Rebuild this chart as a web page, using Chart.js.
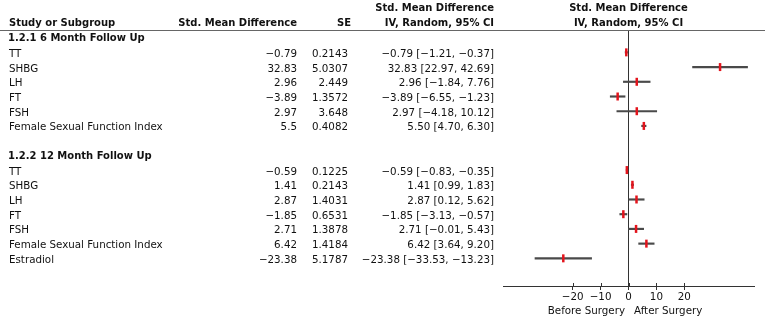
<!DOCTYPE html>
<html>
<head>
<meta charset="utf-8">
<script src="https://cdn.jsdelivr.net/npm/chart.js@4.4.1/dist/chart.umd.min.js"></script>
<style>
  html, body { margin: 0; padding: 0; background: #fff; }
  body { width: 765px; height: 321px; overflow: hidden; position: relative;
         font-family: "DejaVu Sans", sans-serif; font-size: 10.3px; color: #111; }
  #wrap { position: absolute; left: 0; top: 0; width: 765px; height: 321px; }
  .t { position: absolute; white-space: nowrap; line-height: 14px; height: 14px; }
  .b { font-weight: bold; font-size: 10px; }
  #rule { position: absolute; left: 0; top: 29.5px; width: 765px; height: 0; border-top: 1.5px solid #666; }
</style>
</head>
<body>
<div id="wrap"><canvas id="c" width="765" height="321"></canvas></div>
<div id="rule"></div>
<div id="texts"></div>
<script>
// ---- data ----
const groupTitles = ['1.2.1 6 Month Follow Up', '1.2.2 12 Month Follow Up'];

const names6  = ['TT', 'SHBG', 'LH', 'FT', 'FSH', 'Female Sexual Function Index'];
const smd6    = [-0.79, 32.83, 2.96, -3.89, 2.97, 5.5];
const se6     = ['0.2143', '5.0307', '2.449', '1.3572', '3.648', '0.4082'];
const ciLow6  = [-1.21, 22.97, -1.84, -6.55, -4.18, 4.70];
const ciHigh6 = [-0.37, 42.69, 7.76, -1.23, 10.12, 6.30];

const names12  = ['TT', 'SHBG', 'LH', 'FT', 'FSH', 'Female Sexual Function Index', 'Estradiol'];
const smd12    = [-0.59, 1.41, 2.87, -1.85, 2.71, 6.42, -23.38];
const se12     = ['0.1225', '0.2143', '1.4031', '0.6531', '1.3878', '1.4184', '5.1787'];
const ciLow12  = [-0.83, 0.99, 0.12, -3.13, -0.01, 3.64, -33.53];
const ciHigh12 = [-0.35, 1.83, 5.62, -0.57, 5.43, 9.20, -13.23];

const xTickValues = [-20, -10, 0, 10, 20];
const sideLabels = ['Before Surgery', 'After Surgery'];
const colHeaders = ['Study or Subgroup', 'Std. Mean Difference', 'SE', 'Std. Mean Difference', 'IV, Random, 95% CI'];

// ---- build rows (row index k: group header, studies, blank, ...) ----
const rows = [];
const headers = [];
let k = 0;
[[names6, smd6, se6, ciLow6, ciHigh6], [names12, smd12, se12, ciLow12, ciHigh12]].forEach((g, gi) => {
  headers.push({ k: k, title: groupTitles[gi] });
  k++;
  g[0].forEach((n, i) => {
    rows.push({ k: k, name: n, smd: g[1][i], se: g[2][i], lo: g[3][i], hi: g[4][i] });
    k++;
  });
  k++; // blank row
});

const minus = s => String(s).replace(/-/g, '\u2212');
const f2 = v => minus(v.toFixed(2));

const upTicks = {
  id: 'upTicks',
  afterDraw(chart) {
    const xs = chart.scales.x, ctx = chart.ctx;
    ctx.save();
    ctx.strokeStyle = '#333';
    ctx.lineWidth = 1;
    xs.ticks.forEach(t => {
      const px = Math.round(xs.getPixelForValue(t.value)) + 0.5;
      ctx.beginPath();
      ctx.moveTo(px, xs.top - 3);
      ctx.lineTo(px, xs.top);
      ctx.stroke();
    });
    ctx.restore();
  }
};

const chart = new Chart(document.getElementById('c'), {
  type: 'bar',
  data: {
    datasets: [
      {
        type: 'scatter',
        order: 0,
        data: rows.map(r => ({ x: r.smd, y: r.k })),
        pointStyle: 'line',
        rotation: 90,
        radius: 4,
        borderWidth: 2.5,
        borderColor: '#e3141c',
        backgroundColor: '#e3141c',
        showLine: false
      },
      {
        type: 'bar',
        order: 1,
        data: rows.map(r => ({ x: [r.lo, r.hi], y: r.k })),
        backgroundColor: '#4a4a4a',
        barThickness: 1.5,
        borderWidth: 0
      }
    ]
  },
  options: {
    indexAxis: 'y',
    responsive: false,
    devicePixelRatio: 1,
    animation: false,
    layout: { padding: { left: 503, right: 11, top: 30, bottom: 0 } },
    plugins: { legend: { display: false }, tooltip: { enabled: false } },
    scales: {
      x: {
        type: 'linear',
        min: -45, max: 45,
        offset: false,
        afterBuildTicks: s => { s.ticks = xTickValues.map(v => ({ value: v })); },
        afterFit: s => { s.height = 35; },
        border: { display: true, color: '#333', width: 1 },
        grid: {
          offset: false,
          drawOnChartArea: true,
          color: c => (c.tick && c.tick.value === 0) ? '#333' : 'rgba(0,0,0,0)',
          lineWidth: 1,
          tickLength: 4,
          tickColor: '#333'
        },
        ticks: {
          padding: 1,
          color: '#111',
          font: { family: 'DejaVu Sans', size: 10.3 },
          maxRotation: 0,
          callback: v => minus(v)
        }
      },
      y: {
        type: 'linear',
        display: false,
        offset: false,
        grid: { offset: false },
        reverse: true,
        min: -0.52, max: 16.88
      }
    }
  },
  plugins: [upTicks]
});

// ---- table text as HTML ----
const box = document.getElementById('texts');
function put(text, x, yc, align, bold) {
  const d = document.createElement('div');
  d.className = 't' + (bold ? ' b' : '');
  d.textContent = text;
  d.style.top = (yc - 6.5) + 'px';
  if (align === 'left') { d.style.left = x + 'px'; }
  else if (align === 'right') { d.style.right = (765 - x) + 'px'; }
  else { d.style.left = (x - 150) + 'px'; d.style.width = '300px'; d.style.textAlign = 'center'; }
  box.appendChild(d);
}
const ys = chart.scales.y;
const xs = chart.scales.x;
const zeroPx = xs.getPixelForValue(0);

put(colHeaders[0], 9, 22, 'left', true);
put(colHeaders[1], 297, 22, 'right', true);
put(colHeaders[2], 351, 22, 'right', true);
put(colHeaders[3], 494, 7, 'right', true);
put(colHeaders[4], 494, 22, 'right', true);
put(colHeaders[3], zeroPx, 7, 'center', true);
put(colHeaders[4], zeroPx, 22, 'center', true);

headers.forEach(h => put(h.title, 8, ys.getPixelForValue(h.k), 'left', true));
rows.forEach(r => {
  const y = ys.getPixelForValue(r.k);
  put(r.name, 9, y, 'left', false);
  put(minus(r.smd), 297, y, 'right', false);
  put(r.se, 348, y, 'right', false);
  put(f2(r.smd) + ' [' + f2(r.lo) + ', ' + f2(r.hi) + ']', 494, y, 'right', false);
});

put(sideLabels[0], zeroPx - 3.5, 309, 'right', false);
put(sideLabels[1], zeroPx + 5.5, 309, 'left', false);
</script>
</body>
</html>
